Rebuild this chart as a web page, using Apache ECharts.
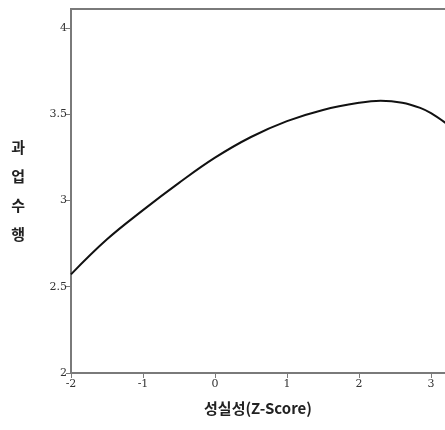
<!DOCTYPE html>
<html>
<head>
<meta charset="utf-8">
<script src="https://cdn.jsdelivr.net/npm/echarts@6/dist/echarts.min.js"></script>
<style>
  html, body { margin: 0; padding: 0; background: #fff; }
  #chart { width: 445px; height: 430px; }
</style>
</head>
<body>
<div id="chart"></div>
<script>
// 성실성(Z-Score) 값과 과업수행 추정 곡선
const zScores = [-2, -1.5, -1, -0.5, 0, 0.5, 1, 1.5, 2, 2.3, 2.6, 2.85, 3, 3.2];
const performance = [2.572, 2.775, 2.944, 3.102, 3.248, 3.368, 3.46, 3.525, 3.566, 3.578, 3.567, 3.537, 3.506, 3.45];
const xTicks = [-2, -1, 0, 1, 2, 3];
const yTicks = [2, 2.5, 3, 3.5, 4];

const chart = echarts.init(document.getElementById('chart'));
const axisColor = '#7a7a7a';
const labelFont = 'DejaVu Serif';

chart.setOption({
  animation: false,
  grid: {
    left: 71,
    top: 9,
    bottom: 57,
    right: -22,
    outerBoundsMode: 'none',
    containLabel: false,
    show: true,
    borderColor: axisColor,
    borderWidth: 2,
  },
  xAxis: {
    type: 'value',
    min: -2,
    max: 3.5,
    interval: 1,
    name: '성실성(Z-Score)',
    nameLocation: 'middle',
    nameGap: 28,
    nameTextStyle: {
      fontFamily: 'Noto Sans CJK KR',
      fontWeight: 'bold',
      fontSize: 15,
      color: '#222',
      padding: [0, 22, 0, 0],
    },
    axisLine: { show: true, onZero: false, lineStyle: { color: axisColor, width: 2 } },
    axisTick: { show: true, length: 5, lineStyle: { color: axisColor } },
    splitLine: { show: false },
    axisLabel: {
      margin: 6,
      fontFamily: labelFont,
      fontSize: 11,
      color: '#333',
      showMaxLabel: false,
      formatter: v => (xTicks.includes(v) ? String(v) : ''),
    },
  },
  yAxis: {
    type: 'value',
    min: 2,
    max: 4.11,
    interval: 0.5,
    name: '과\n업\n수\n행',
    nameLocation: 'middle',
    nameRotate: 0,
    nameGap: 46,
    nameTextStyle: {
      fontFamily: 'Noto Sans CJK KR',
      fontWeight: 'bold',
      fontSize: 15,
      lineHeight: 29,
      color: '#222',
      padding: [16, 0, 0, 0],
    },
    axisLine: { show: true, onZero: false, lineStyle: { color: axisColor, width: 2 } },
    axisTick: { show: true, length: 5, lineStyle: { color: axisColor } },
    splitLine: { show: false },
    axisLabel: {
      margin: 4,
      fontFamily: labelFont,
      fontSize: 11,
      color: '#333',
      showMaxLabel: false,
      formatter: v => (yTicks.includes(v) ? String(v) : ''),
    },
  },
  series: [{
    type: 'line',
    data: zScores.map((x, i) => [x, performance[i]]),
    smooth: 0.4,
    showSymbol: false,
    lineStyle: { color: '#111', width: 2 },
  }],
});
</script>
</body>
</html>
